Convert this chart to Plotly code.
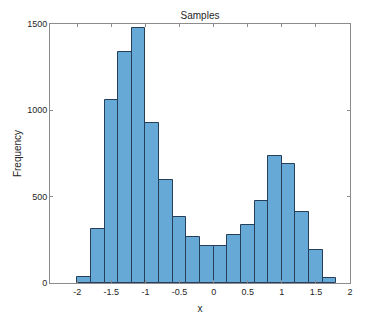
import plotly.graph_objects as go

bin_left = [-2.0, -1.8, -1.6, -1.4, -1.2, -1.0, -0.8, -0.6, -0.4, -0.2,
            0.0, 0.2, 0.4, 0.6, 0.8, 1.0, 1.2, 1.4, 1.6]
counts = [35, 313, 1058, 1340, 1475, 925, 594, 381, 267, 213,
          217, 277, 335, 473, 735, 687, 413, 192, 31]
bin_width = 0.2
x_ticks = [-2, -1.5, -1, -0.5, 0, 0.5, 1, 1.5, 2]
x_tick_labels = ["-2", "-1.5", "-1", "-0.5", "0", "0.5", "1", "1.5", "2"]
y_ticks = [0, 500, 1000, 1500]

centers = [b + bin_width / 2 for b in bin_left]

fig = go.Figure(go.Bar(
    x=centers, y=counts, width=[bin_width] * len(counts),
    marker=dict(color="#66a9d7", line=dict(color="#243f57", width=1)),
    hoverinfo="x+y",
))

axis_common = dict(
    showline=True, linecolor="#8c8c8c", linewidth=1, mirror="ticks",
    ticks="inside", ticklen=3, tickcolor="#8c8c8c",
    showgrid=False, zeroline=False, automargin=False,
    tickfont=dict(family="Liberation Sans, Arial", size=9, color="#262626"),
)

# The page body has an 8px default margin, so the figure is sized to fit the window.
fig.update_layout(
    width=380, height=311,
    margin=dict(l=42, r=38, t=16, b=36),
    paper_bgcolor="white", plot_bgcolor="white",
    showlegend=False, bargap=0,
    font=dict(family="Liberation Sans, Arial", size=10, color="#262626"),
    title=dict(text="Samples", x=0.5, xref="paper", xanchor="center",
               y=1, yref="paper", yanchor="bottom", pad=dict(b=5),
               font=dict(size=10, color="#262626")),
    xaxis=dict(range=[-2.4, 2], tickvals=x_ticks, ticktext=x_tick_labels,
               title=dict(text="x", standoff=9, font=dict(size=10)), **axis_common),
    yaxis=dict(range=[0, 1500], tickvals=y_ticks,
               title=dict(text="Frequency", standoff=3, font=dict(size=10)), **axis_common),
)

fig.write_html("out.html")
